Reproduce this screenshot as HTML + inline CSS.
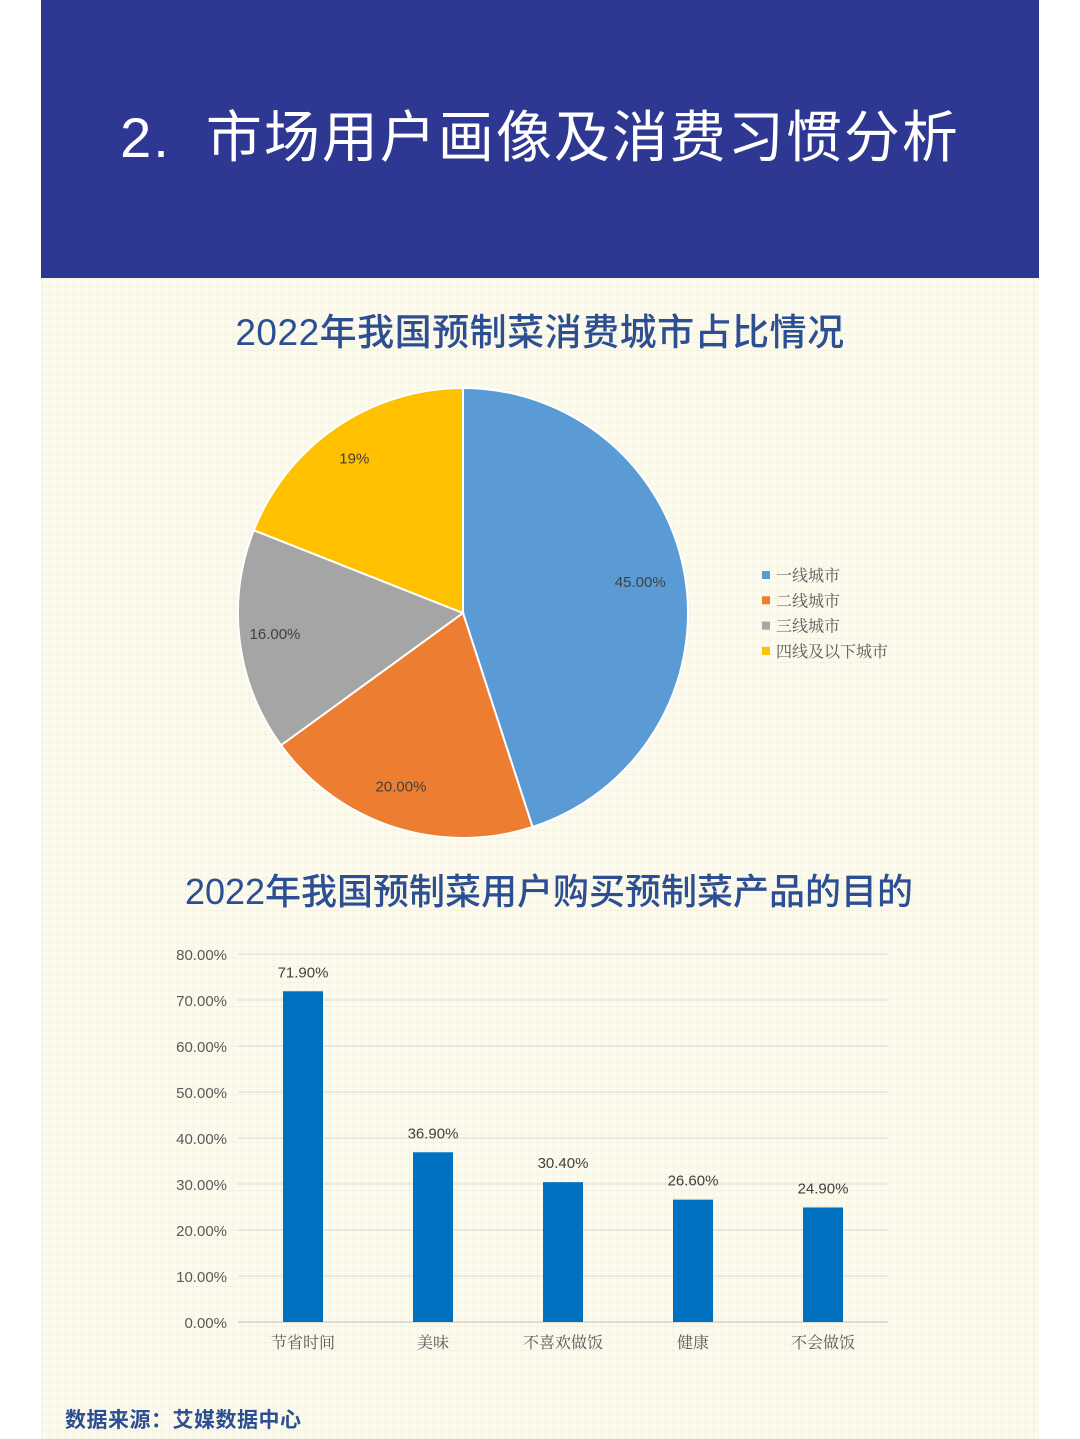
<!DOCTYPE html>
<html><head><meta charset="utf-8"><style>
html,body{margin:0;padding:0;background:#fff;}
body{width:1080px;height:1439px;position:relative;overflow:hidden;font-family:"Liberation Sans","Noto Sans CJK SC",sans-serif;}
#panel{position:absolute;left:41px;top:278px;width:998px;height:1161px;background-color:#fcfaec;
background-image:linear-gradient(rgba(200,200,170,0.13) 1px,transparent 1px),linear-gradient(90deg,rgba(200,200,170,0.13) 1px,transparent 1px);background-size:8px 8px;}
#header{position:absolute;left:41px;top:0;width:998px;height:278px;background:#2e3791;}
#header h1{margin:0;position:absolute;left:0;right:0;top:98px;text-align:center;color:#fff;font-weight:400;font-size:56px;letter-spacing:2px;line-height:80px;}
.ctitle{position:absolute;left:41px;width:998px;text-align:center;color:#2c4f93;font-size:37px;line-height:44px;margin:0;font-weight:500;}
svg{position:absolute;left:0;top:0;}
#source{position:absolute;left:65px;top:1404px;color:#2c4f93;font-size:21px;font-weight:700;letter-spacing:0.5px;}
</style></head><body>
<div id="header"><h1>2.&nbsp; 市场用户画像及消费习惯分析</h1></div>
<div id="panel"></div>
<div class="ctitle" style="top:311px;letter-spacing:0.5px">2022年我国预制菜消费城市占比情况</div>
<div class="ctitle" style="top:870px;left:50px;font-size:36px">2022年我国预制菜用户购买预制菜产品的目的</div>
<svg id="chart" width="1080" height="1439"></svg>
<div id="source">数据来源：艾媒数据中心</div>
<script>
const pieLabels=["一线城市","二线城市","三线城市","四线及以下城市"];
const pieValues=[45,20,16,19];
const pieText=["45.00%","20.00%","16.00%","19%"];
const pieColors=["#5b9bd5","#ed7d31","#a5a5a5","#ffc000"];
const barCats=["节省时间","美味","不喜欢做饭","健康","不会做饭"];
const barValues=[71.9,36.9,30.4,26.6,24.9];
const yTicks=[0,10,20,30,40,50,60,70,80];

const NS="http://www.w3.org/2000/svg";
const svg=document.getElementById('chart');
function mk(t,a,txt){const e=document.createElementNS(NS,t);for(const k in a)e.setAttribute(k,a[k]);if(txt!==undefined)e.textContent=txt;svg.appendChild(e);return e;}

// pie
const cx=463,cy=613,R=225;
const total=pieValues.reduce((a,b)=>a+b,0);
let acc=0;
pieValues.forEach((v,i)=>{
  const a0=acc/total*2*Math.PI;acc+=v;const a1=acc/total*2*Math.PI;
  const p=a=>[cx+R*Math.sin(a),cy-R*Math.cos(a)];
  const [x0,y0]=p(a0),[x1,y1]=p(a1);
  const s=mk('path',{d:`M${cx},${cy}L${x0},${y0}A${R},${R} 0 ${a1-a0>Math.PI?1:0} 1 ${x1},${y1}Z`,fill:pieColors[i],stroke:'#fff','stroke-width':2});
  
  
  const am=(a0+a1)/2,rl=R*0.82;
  const t=mk('text',{x:cx+rl*Math.sin(am)-5,y:cy-rl*Math.cos(am)+3,'text-anchor':'middle','font-size':15,fill:'#404040'},pieText[i]);
  
  
});
pieLabels.forEach((l,i)=>{
  const y=575+i*25.3;
  const r=mk('rect',{x:762,y:y-4,width:8,height:8,fill:pieColors[i]});
  
  
  const t=mk('text',{x:776,y:y+6,'font-size':16,fill:'#595959','font-family':'"Liberation Serif","Noto Serif CJK SC",serif'},l);
  
  
});

// bar
const x0=238,x1=888,yB=1322,yT=954,ymax=80;
const ys=v=>yB-(v/ymax)*(yB-yT);
yTicks.forEach(v=>{
  const g=mk('line',{x1:x0,x2:x1,y1:ys(v),y2:ys(v),stroke:v===0?'#bfbfbf':'#d9d9d9','stroke-width':1});
  
  
  const t=mk('text',{x:227,y:ys(v)+6,'text-anchor':'end','font-size':15,fill:'#595959'},v.toFixed(2)+'%');
  
  
});
const band=(x1-x0)/barCats.length;
barCats.forEach((c,i)=>{
  const xc=x0+band*(i+0.5),v=barValues[i];
  const b=mk('rect',{x:xc-20,y:ys(v),width:40,height:yB-ys(v),fill:'#0070c0'});
  
  
  const t=mk('text',{x:xc,y:ys(v)-14,'text-anchor':'middle','font-size':15,fill:'#404040'},v.toFixed(2)+'%');
  
  
  const l=mk('text',{x:xc,y:1348,'text-anchor':'middle','font-size':16,fill:'#595959','font-family':'"Liberation Serif","Noto Serif CJK SC",serif'},c);
  
  
});
</script>
</body></html>
